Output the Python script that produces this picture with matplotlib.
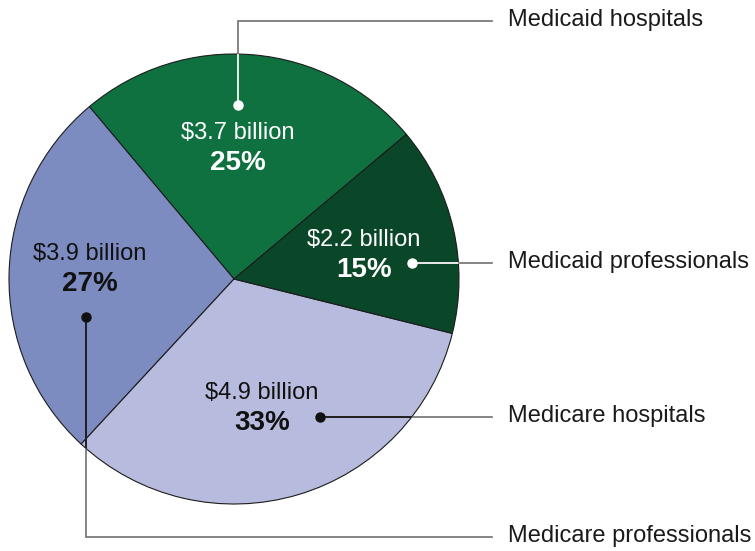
import matplotlib
matplotlib.use("Agg")
import matplotlib.pyplot as plt
from matplotlib.patches import Circle

plt.rcParams['font.family'] = ['Liberation Sans', 'DejaVu Sans']

# slices, counter-clockwise from the upper right
programs = ["Medicaid hospitals", "Medicare professionals",
            "Medicare hospitals", "Medicaid professionals"]
amounts = ["$3.7 billion", "$3.9 billion", "$4.9 billion", "$2.2 billion"]
shares = [25, 27, 33, 15]

colors = ["#107140", "#7c8bc0", "#b7bcde", "#0a4628"]
ink = ["white", "#111111", "#111111", "white"]

W, H = 755, 551
cx, cy, r = 234, 279, 225

# label spots and leader paths in pixel coords (y down)
text_xy = [(238, 133), (90, 254), (262, 393), (364, 240)]
leaders = [
    [(238, 105), (238, 21), (492, 21)],
    [(86, 317), (86, 537), (492, 537)],
    [(320, 417), (492, 417)],
    [(412, 263), (492, 263)],
]


def fy(y):
    return H - y


fig = plt.figure(figsize=(W / 100, H / 100), dpi=100)
ax = fig.add_axes([0, 0, 1, 1])

wedges, _ = ax.pie(shares, colors=colors, startangle=40, counterclock=True,
                   center=(cx, fy(cy)), radius=r,
                   wedgeprops=dict(edgecolor="#1c1c1c", linewidth=0.8))

ax.set_xlim(0, W)
ax.set_ylim(0, H)
ax.set_aspect("auto")
ax.axis("off")

disc = Circle((cx, fy(cy)), r, transform=ax.transData, fill=False, lw=0)
ax.add_patch(disc)

for i, name in enumerate(programs):
    tx, ty = text_xy[i]
    ax.text(tx, fy(ty), amounts[i], ha="center", va="center",
            fontsize=17, color=ink[i])
    ax.text(tx, fy(ty + 30), f"{shares[i]}%", ha="center", va="center",
            fontsize=20, fontweight="bold", color=ink[i])

    xs = [p[0] for p in leaders[i]]
    ys = [fy(p[1]) for p in leaders[i]]
    ax.plot(xs, ys, color="#707070", lw=1.2, solid_joinstyle="miter")
    inner, = ax.plot(xs, ys, color=ink[i], lw=1.2)
    inner.set_clip_path(disc)
    ax.plot(xs[0], ys[0], "o", ms=6.5, color=ink[i])

    ax.text(508, ys[-1] + 1, name, ha="left", va="center",
            fontsize=17, color="#1a1a1a")

fig.savefig("out.png", dpi=100)
